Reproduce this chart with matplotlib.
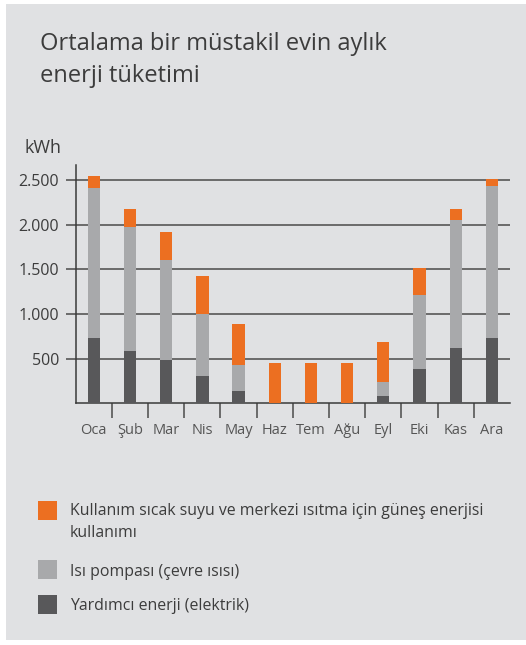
import matplotlib
matplotlib.use("Agg")
import matplotlib.pyplot as plt
from matplotlib.patches import Rectangle
import numpy as np

plt.rcParams["font.family"] = ["Open Sans", "DejaVu Sans"]

W, H = 526, 645
BG = "#e0e1e3"
ORANGE, LGRAY, DGRAY = "#ec6f21", "#a8a9ab", "#58585a"
TXT = "#3c3c3c"

months = ["Oca", "Şub", "Mar", "Nis", "May", "Haz", "Tem", "Ağu", "Eyl", "Eki", "Kas", "Ara"]
# stacked components (kWh)
yardimci = [731, 586, 485, 306, 138, 0, 0, 0, 82, 384, 619, 731]
isi_pompasi = [1679, 1388, 1119, 694, 291, 0, 0, 0, 157, 829, 1433, 1702]
gunes = [135, 201, 314, 425, 459, 451, 451, 451, 448, 302, 123, 78]
yticks = [500, 1000, 1500, 2000, 2500]
ytick_labels = ["500", "1.000", "1.500", "2.000", "2.500"]

labels = ["Kullanım sıcak suyu ve merkezi ısıtma için güneş enerjisi\nkullanımı",
          "Isı pompası (çevre ısısı)",
          "Yardımcı enerji (elektrik)"]


def fx(px):
    return px / W


def fy(py):
    return 1 - py / H


fig = plt.figure(figsize=(W / 100, H / 100), dpi=100)
fig.patch.set_facecolor("white")
fig.patches.append(Rectangle((fx(6), fy(640)), fx(W - 6), fy(4) - fy(640),
                             transform=fig.transFigure, facecolor=BG,
                             edgecolor="none", zorder=-10))

fig.text(fx(40), fy(60), "Ortalama bir müstakil evin aylık\nenerji tüketimi",
         fontsize=17, color=TXT, ha="left", va="center", linespacing=1.4)

ax_l, ax_r, ax_b, ax_t = 75.7, 510, 403.3, 165
ax = fig.add_axes([fx(ax_l), fy(ax_b), fx(ax_r - ax_l), fy(ax_t) - fy(ax_b)])
ax.set_facecolor("none")

x = np.arange(len(months))
bw = 0.34
y1 = np.array(yardimci)
y2 = np.array(isi_pompasi)
y3 = np.array(gunes)
ax.bar(x, y1, bw, color=DGRAY, zorder=3)
ax.bar(x, y2, bw, bottom=y1, color=LGRAY, zorder=3)
ax.bar(x, y3, bw, bottom=y1 + y2, color=ORANGE, zorder=3)

ax.set_xlim(-0.5, len(months) - 0.5)
ax.set_ylim(0, 2668)

for v in yticks:
    ax.axhline(v, color="#4a4a4a", lw=1.1, zorder=1)
ax.set_yticks(yticks)
ax.set_yticklabels(ytick_labels)
ax.tick_params(axis="y", length=7, width=1.1, color="#4a4a4a", direction="out",
               labelsize=11.5, labelcolor=TXT, pad=5)

ax.set_xticks(x)
ax.set_xticklabels(months)
ax.set_xticks(x[:-1] + 0.5, minor=True)
ax.tick_params(axis="x", which="major", length=0, labelsize=10.5, labelcolor="#555555", pad=14)
ax.tick_params(axis="x", which="minor", length=11, width=1.1, color="#4a4a4a", direction="out")

for s in ["top", "right"]:
    ax.spines[s].set_visible(False)
for s in ["left", "bottom"]:
    ax.spines[s].set_color("#3a3a3a")
    ax.spines[s].set_linewidth(1.1)

fig.text(fx(24), fy(148), "kWh", fontsize=13, color=TXT, ha="left", va="center")

# legend
leg_colors = [ORANGE, LGRAY, DGRAY]
leg_sq_top = [501, 560, 595]
leg_text_y = [503, 572, 606]
for c, t, ty, lab in zip(leg_colors, leg_sq_top, leg_text_y, labels):
    fig.patches.append(Rectangle((fx(38), fy(t + 19)), fx(19), fy(t) - fy(t + 19),
                                 transform=fig.transFigure, facecolor=c, edgecolor="none"))
    fig.text(fx(70), fy(ty), lab, fontsize=11.4, color=TXT, ha="left",
             va="top" if "\n" in lab else "center", linespacing=1.5)

fig.savefig("out.png", dpi=100, facecolor="white")
